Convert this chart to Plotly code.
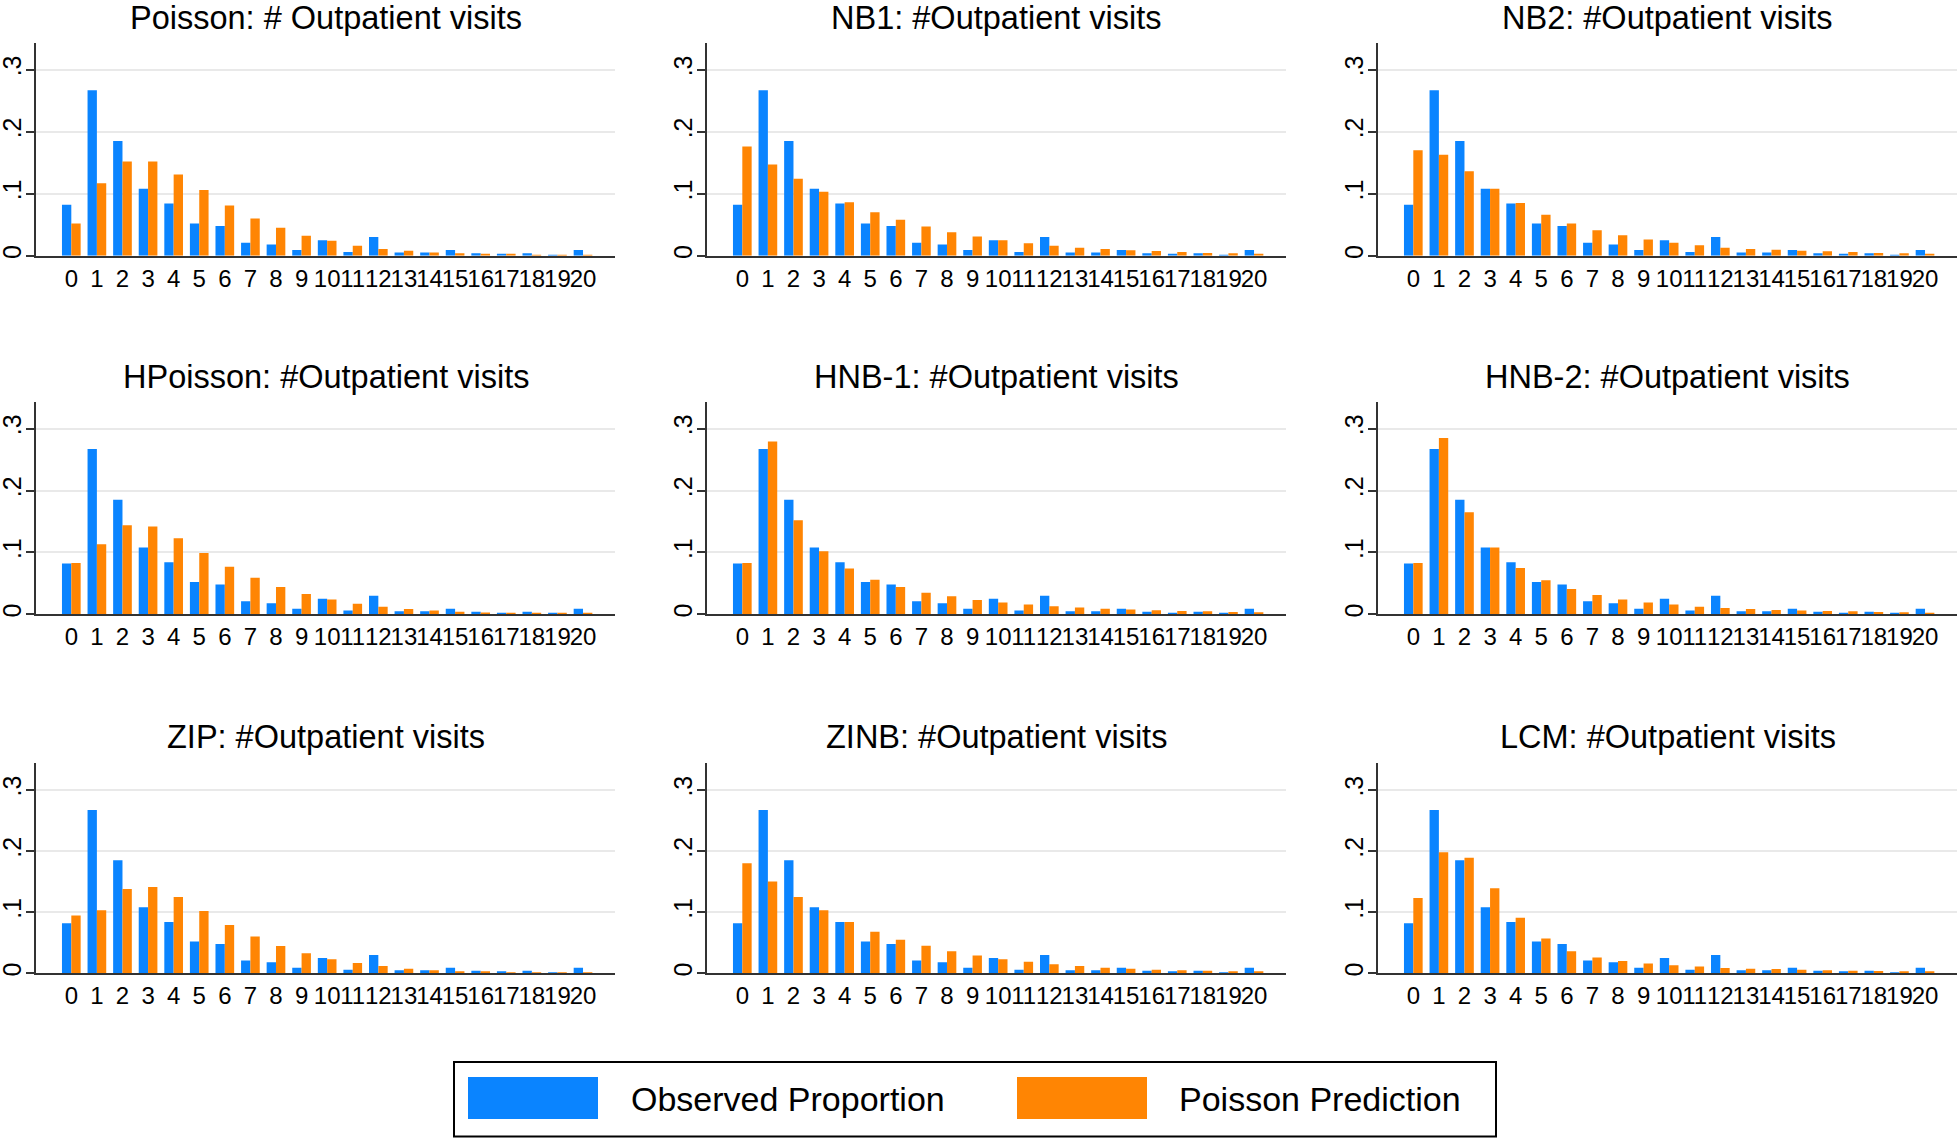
import plotly.graph_objects as go

# ---------------- data ----------------
visit_counts = list(range(21))
tick_labels = [str(i) for i in visit_counts]
y_tick_vals = [0, 0.1, 0.2, 0.3]
y_tick_text = ["0", ".1", ".2", ".3"]

observed = [0.082, 0.267, 0.185, 0.108, 0.084, 0.052, 0.048, 0.021, 0.018, 0.009, 0.025,
            0.006, 0.030, 0.005, 0.005, 0.009, 0.004, 0.002, 0.004, 0.001, 0.009]

pred_poisson = [0.052, 0.117, 0.152, 0.152, 0.131, 0.106, 0.081, 0.060, 0.045, 0.032, 0.024,
                0.016, 0.011, 0.008, 0.005, 0.004, 0.003, 0.002, 0.0015, 0.0015, 0.001]
pred_nb1 = [0.176, 0.147, 0.124, 0.103, 0.086, 0.070, 0.058, 0.047, 0.038, 0.031, 0.025,
            0.020, 0.016, 0.013, 0.011, 0.0086, 0.0075, 0.006, 0.0043, 0.0038, 0.003]
pred_nb2 = [0.170, 0.163, 0.136, 0.108, 0.085, 0.066, 0.052, 0.041, 0.033, 0.026, 0.021,
            0.017, 0.013, 0.011, 0.0097, 0.008, 0.007, 0.006, 0.0043, 0.004, 0.003]
pred_hpoisson = [0.083, 0.113, 0.144, 0.142, 0.123, 0.099, 0.077, 0.059, 0.044, 0.033, 0.024,
                 0.017, 0.012, 0.0086, 0.006, 0.0043, 0.003, 0.002, 0.0016, 0.0016, 0.001]
pred_hnb1 = [0.083, 0.279, 0.152, 0.102, 0.074, 0.056, 0.044, 0.035, 0.029, 0.023, 0.019,
             0.016, 0.013, 0.011, 0.009, 0.0076, 0.0065, 0.0054, 0.0049, 0.0038, 0.0032]
pred_hnb2 = [0.083, 0.285, 0.165, 0.108, 0.075, 0.055, 0.041, 0.031, 0.024, 0.019, 0.016,
             0.012, 0.010, 0.0086, 0.007, 0.006, 0.0054, 0.0049, 0.0038, 0.0032, 0.0027]
pred_zip = [0.0945, 0.103, 0.138, 0.141, 0.125, 0.102, 0.079, 0.060, 0.0446, 0.033, 0.023,
            0.017, 0.012, 0.0076, 0.005, 0.0033, 0.0022, 0.0016, 0.001, 0.001, 0.001]
pred_zinb = [0.180, 0.150, 0.125, 0.103, 0.084, 0.068, 0.055, 0.045, 0.036, 0.029, 0.023,
             0.019, 0.015, 0.012, 0.0092, 0.0076, 0.006, 0.005, 0.0043, 0.0033, 0.0027]
pred_lcm = [0.123, 0.198, 0.189, 0.139, 0.091, 0.057, 0.036, 0.026, 0.020, 0.016, 0.013,
            0.011, 0.0087, 0.0076, 0.007, 0.006, 0.005, 0.0043, 0.0038, 0.0033, 0.0027]

panel_titles = ["Poisson: # Outpatient visits", "NB1: #Outpatient visits", "NB2: #Outpatient visits",
                "HPoisson: #Outpatient visits", "HNB-1: #Outpatient visits", "HNB-2: #Outpatient visits",
                "ZIP: #Outpatient visits", "ZINB: #Outpatient visits", "LCM: #Outpatient visits"]
panel_preds = [pred_poisson, pred_nb1, pred_nb2, pred_hpoisson, pred_hnb1, pred_hnb2,
               pred_zip, pred_zinb, pred_lcm]
legend_names = ["Observed Proportion", "Poisson Prediction"]

# ---------------- style / layout ----------------
W, H = 1959, 1138
BLUE = "#0a84ff"
ORANGE = "#ff8503"
FONT = "Liberation Sans, Arial, Helvetica, sans-serif"
AX = "#333333"

col_px = [(36, 615), (707, 1286), (1378, 1957)]      # plot-area left/right in pixels
row_px = [(42.7, 255.7), (401.7, 614.3), (763.3, 973.3)]  # plot-area top/bottom in pixels
title_y_px = [18, 377, 737]

fig = go.Figure()
layout_axes = {}
annotations = []

for i in range(9):
    r, c = divmod(i, 3)
    n = i + 1
    xa = "x" if n == 1 else f"x{n}"
    ya = "y" if n == 1 else f"y{n}"
    fig.add_trace(go.Bar(x=visit_counts, y=observed, marker_color=BLUE, marker_line_width=0,
                         name=legend_names[0], showlegend=False, xaxis=xa, yaxis=ya))
    fig.add_trace(go.Bar(x=visit_counts, y=panel_preds[i], marker_color=ORANGE, marker_line_width=0,
                         name=legend_names[1], showlegend=False, xaxis=xa, yaxis=ya))
    x0, x1 = col_px[c]
    t, b = row_px[r]
    xkey = "xaxis" if n == 1 else f"xaxis{n}"
    ykey = "yaxis" if n == 1 else f"yaxis{n}"
    layout_axes[xkey] = dict(
        domain=[x0 / W, x1 / W], anchor=ya, range=[-1.38, 21.25], automargin=False,
        tickmode="array", tickvals=visit_counts, ticktext=tick_labels, tickangle=0,
        showgrid=False, zeroline=False, showline=True, linecolor=AX, linewidth=2,
        ticks="", ticklabelstandoff=0,
        tickfont=dict(family=FONT, size=24, color="black"), fixedrange=True,
    )
    layout_axes[ykey] = dict(
        domain=[1 - b / H, 1 - t / H], anchor=xa, range=[0, 0.3435], automargin=False,
        tickmode="array", tickvals=y_tick_vals, ticktext=y_tick_text, tickangle=-90,
        showgrid=True, gridcolor="#e9e9e9", gridwidth=2, zeroline=False,
        showline=True, linecolor=AX, linewidth=2,
        ticks="outside", ticklen=8, tickwidth=2, tickcolor=AX, ticklabelstandoff=-5,
        tickfont=dict(family=FONT, size=25, color="black"), fixedrange=True,
    )
    annotations.append(dict(
        text=panel_titles[i], xref="paper", yref="paper",
        x=(x0 + x1) / 2 / W, y=1 - title_y_px[r] / H, xanchor="center", yanchor="middle",
        showarrow=False, font=dict(family=FONT, size=32.5, color="black"),
    ))

# legend drawn as a framed key below the panels
shapes = [
    dict(type="rect", xref="paper", yref="paper", x0=454 / W, x1=1496 / W,
         y0=1 - 1136.5 / H, y1=1 - 1062 / H, line=dict(color="black", width=2), fillcolor="white"),
    dict(type="rect", xref="paper", yref="paper", x0=468 / W, x1=598 / W,
         y0=1 - 1119 / H, y1=1 - 1077 / H, line=dict(width=0), fillcolor=BLUE),
    dict(type="rect", xref="paper", yref="paper", x0=1017 / W, x1=1147 / W,
         y0=1 - 1119 / H, y1=1 - 1077 / H, line=dict(width=0), fillcolor=ORANGE),
]
for name, xpx in zip(legend_names, [629, 1177]):
    annotations.append(dict(
        text=name, xref="paper", yref="paper", x=xpx / W, y=1 - 1099 / H,
        xanchor="left", yanchor="middle", showarrow=False,
        font=dict(family=FONT, size=34, color="black"),
    ))

fig.update_layout(
    width=W, height=H, autosize=False,
    margin=dict(l=0, r=0, t=0, b=0, autoexpand=False),
    paper_bgcolor="white", plot_bgcolor="white",
    barmode="group", bargap=0.27, bargroupgap=0,
    showlegend=False, annotations=annotations, shapes=shapes,
    font=dict(family=FONT, color="black"),
    **layout_axes,
)

fig.write_html(
    "out.html",
    config={"displayModeBar": False},
    post_script="document.body.style.margin='0';document.body.style.overflow='hidden';",
)
